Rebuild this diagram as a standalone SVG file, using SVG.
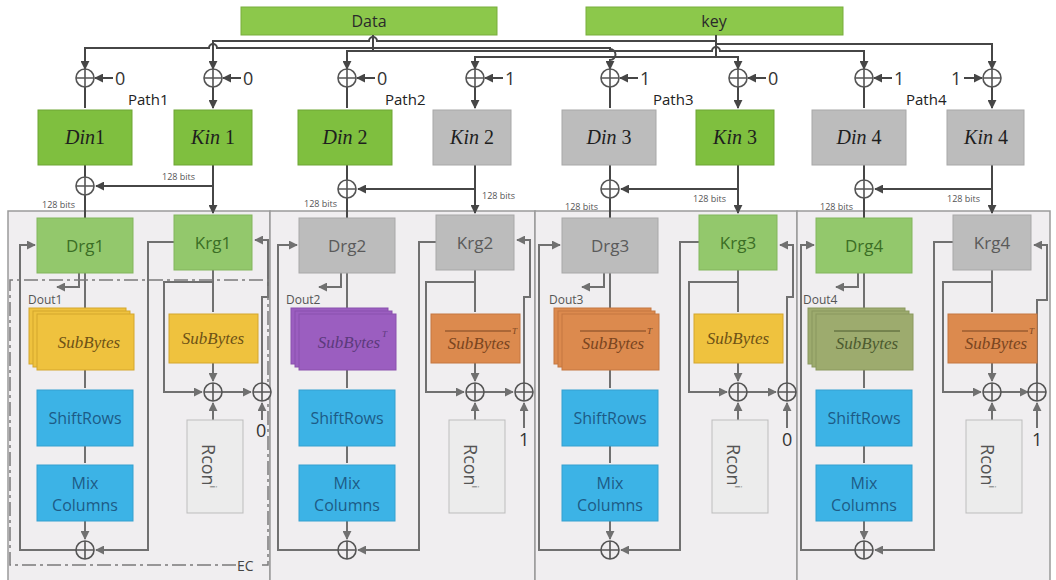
<svg xmlns="http://www.w3.org/2000/svg" width="1056" height="580" viewBox="0 0 1056 580">
<defs>
<style>
.ln{fill:none;stroke:#464646;stroke-width:2}
.pl{fill:none;stroke:#707070;stroke-width:2}
.top{fill:#8cc84b;stroke:#79ad3c;stroke-width:1}
.gA{fill:#7fbf3f;stroke:#6ea535;stroke-width:1}
.gB{fill:#93c86c;stroke:#82b55d;stroke-width:1}
.gr{fill:#bcbcbc;stroke:#a8a8a8;stroke-width:1}
.yl{fill:#efc23e;stroke:#d4a62c;stroke-width:1}
.pu{fill:#9b5ec0;stroke:#8a50ad;stroke-width:1}
.or{fill:#dc8a4e;stroke:#c47640;stroke-width:1}
.ol{fill:#9dab6e;stroke:#8a985e;stroke-width:1}
.bl{fill:#3cb3e6;stroke:#34a0cf;stroke-width:1}
.rc{fill:#ececec;stroke:#bdbdbd;stroke-width:1}
.pan{fill:#f0eef0;stroke:#9a9a9a;stroke-width:1.5}
.sans{font-family:"Open Sans","Liberation Sans",sans-serif}
.ser{font-family:"Liberation Serif","Times New Roman",serif}
.din{font-family:"Liberation Serif","Times New Roman",serif;font-size:20px;fill:#1e1e1e;text-anchor:middle}
.rg{font-family:"Open Sans","Liberation Sans",sans-serif;font-size:17px;text-anchor:middle}
.bt{font-family:"Open Sans","Liberation Sans",sans-serif;font-size:16px;fill:#1d5b86;text-anchor:middle}
.sb{font-family:"Liberation Serif","Times New Roman",serif;font-size:17px;font-style:italic;text-anchor:middle}
.k{font-family:"Open Sans","Liberation Sans",sans-serif;font-size:18px;fill:#333}
.s9{font-family:"Open Sans","Liberation Sans",sans-serif;font-size:9px;fill:#555}
.path{font-family:"Open Sans","Liberation Sans",sans-serif;font-size:15px;fill:#222}
.dout{font-family:"Open Sans","Liberation Sans",sans-serif;font-size:12px;fill:#555}
.xo{stroke:#555;stroke-width:1.6}
</style>
<marker id="a" viewBox="0 0 10 10" refX="9" refY="5" markerWidth="9" markerHeight="9" markerUnits="userSpaceOnUse" orient="auto"><path d="M0,0 L10,5 L0,10 z" fill="#464646"/></marker>
<marker id="b" viewBox="0 0 10 10" refX="9" refY="5" markerWidth="9" markerHeight="9" markerUnits="userSpaceOnUse" orient="auto"><path d="M0,0 L10,5 L0,10 z" fill="#707070"/></marker>
<g id="xor"><circle r="9" class="xo"/><path d="M-9,0H9M0,-9V9" class="xo" fill="none"/></g>
</defs>
<rect width="1056" height="580" fill="#ffffff"/>

<g id="panels">
<rect x="8" y="211" width="262" height="372" class="pan"/>
<rect x="270" y="211" width="265" height="372" class="pan"/>
<rect x="535" y="211" width="262" height="372" class="pan"/>
<rect x="797" y="211" width="253" height="372" class="pan"/>
</g>

<g id="data"><rect x="241" y="7" width="256" height="28" class="top"/><text x="369" y="27" class="sans" font-size="16" fill="#2a2a2a" text-anchor="middle">Data</text></g>
<g id="key"><rect x="586" y="7" width="257" height="28" class="top"/><text x="714" y="27" class="sans" font-size="16" fill="#2a2a2a" text-anchor="middle">key</text></g>

<g id="connectors">
<g id="top-wires">
<path class="ln" d="M373,35V51"/>
<path class="ln" d="M716,35V57"/>
<path class="ln" d="M373,48H217A4,4 0 0 0 209,48H85V69" marker-end="url(#a)"/>
<path class="ln" d="M373,51H347V69" marker-end="url(#a)"/>
<path class="ln" d="M373,48H610V49A5.5,5.5 0 0 1 610,60V69" marker-end="url(#a)"/>
<path class="ln" d="M373,51H712A4,4 0 0 1 720,51H864V69" marker-end="url(#a)"/>
<path class="ln" d="M716,41H377A4,4 0 0 0 369,41H213V69" marker-end="url(#a)"/>
<path class="ln" d="M716,57H475V69" marker-end="url(#a)"/>
<path class="ln" d="M716,57H738V69" marker-end="url(#a)"/>
<path class="ln" d="M716,44H992V69" marker-end="url(#a)"/>
</g>
<g id="c1" transform="translate(0,0)">
<path class="ln" d="M85,87V108M213,87V108" marker-end="url(#a)"/>
<path class="ln" d="M113,78H95" marker-end="url(#a)"/>
<path class="ln" d="M241,78H223" marker-end="url(#a)"/>
<path class="ln" d="M85,165V177M85,195V218"/>
<path class="ln" d="M213,165V213" marker-end="url(#a)"/>
<path class="ln" d="M213,186H96" marker-end="url(#a)"/>
<path class="pl" d="M76,550H20V245H35" marker-end="url(#b)"/>
<path class="pl" d="M174,242H148V550H96" marker-end="url(#b)"/>
<path class="pl" d="M85,273V312M85,370V388M85,446V463M85,521V539" marker-end="url(#b)"/>
<path class="pl" d="M79,273V287H57" marker-end="url(#b)"/>
<path class="pl" d="M213,270V312M213,363V381" marker-end="url(#b)"/>
<path class="pl" d="M213,282H164V392H202" marker-end="url(#b)"/>
<path class="pl" d="M213,420V403" marker-end="url(#b)"/>
<path class="pl" d="M222,392H251" marker-end="url(#b)"/>
<path class="pl" d="M262,420V403" marker-end="url(#b)"/>
<path class="pl" d="M262,383V297H268V240H255" marker-end="url(#b)"/>
</g>
<g id="c2" transform="translate(262,0)">
<path class="ln" d="M85,87V108M213,87V108" marker-end="url(#a)"/>
<path class="ln" d="M113,78H95" marker-end="url(#a)"/>
<path class="ln" d="M241,78H223" marker-end="url(#a)"/>
<path class="ln" d="M85,165V180M85,198V218"/>
<path class="ln" d="M213,165V213" marker-end="url(#a)"/>
<path class="ln" d="M213,189H96" marker-end="url(#a)"/>
<path class="pl" d="M76,550H16V245H35" marker-end="url(#b)"/>
<path class="pl" d="M174,242H157V550H96" marker-end="url(#b)"/>
<path class="pl" d="M85,273V312M85,370V388M85,446V463M85,521V539" marker-end="url(#b)"/>
<path class="pl" d="M79,273V287H57" marker-end="url(#b)"/>
<path class="pl" d="M213,270V312M213,363V381" marker-end="url(#b)"/>
<path class="pl" d="M213,282H164V392H202" marker-end="url(#b)"/>
<path class="pl" d="M213,420V403" marker-end="url(#b)"/>
<path class="pl" d="M222,392H251" marker-end="url(#b)"/>
<path class="pl" d="M262,428V403" marker-end="url(#b)"/>
<path class="pl" d="M262,383V297H268V240H255" marker-end="url(#b)"/>
</g>
<g id="c3" transform="translate(525,0)">
<path class="ln" d="M85,87V108M213,87V108" marker-end="url(#a)"/>
<path class="ln" d="M113,78H95" marker-end="url(#a)"/>
<path class="ln" d="M241,78H223" marker-end="url(#a)"/>
<path class="ln" d="M85,165V180M85,198V218"/>
<path class="ln" d="M213,165V213" marker-end="url(#a)"/>
<path class="ln" d="M213,189H96" marker-end="url(#a)"/>
<path class="pl" d="M76,550H14V245H35" marker-end="url(#b)"/>
<path class="pl" d="M174,242H155V550H96" marker-end="url(#b)"/>
<path class="pl" d="M85,273V312M85,370V388M85,446V463M85,521V539" marker-end="url(#b)"/>
<path class="pl" d="M79,273V287H57" marker-end="url(#b)"/>
<path class="pl" d="M213,270V312M213,363V381" marker-end="url(#b)"/>
<path class="pl" d="M213,282H164V392H202" marker-end="url(#b)"/>
<path class="pl" d="M213,420V403" marker-end="url(#b)"/>
<path class="pl" d="M222,392H251" marker-end="url(#b)"/>
<path class="pl" d="M262,428V403" marker-end="url(#b)"/>
<path class="pl" d="M262,383V297H268V245H255" marker-end="url(#b)"/>
</g>
<g id="c4" transform="translate(779,0)">
<path class="ln" d="M85,87V108M213,87V108" marker-end="url(#a)"/>
<path class="ln" d="M113,78H95" marker-end="url(#a)"/>
<path class="ln" d="M185,78H203" marker-end="url(#a)"/>
<path class="ln" d="M85,165V180M85,198V218"/>
<path class="ln" d="M213,165V213" marker-end="url(#a)"/>
<path class="ln" d="M213,189H96" marker-end="url(#a)"/>
<path class="pl" d="M76,550H22V245H35" marker-end="url(#b)"/>
<path class="pl" d="M174,242H155V550H96" marker-end="url(#b)"/>
<path class="pl" d="M85,273V312M85,370V388M85,446V463M85,521V539" marker-end="url(#b)"/>
<path class="pl" d="M79,273V287H57" marker-end="url(#b)"/>
<path class="pl" d="M213,270V312M213,363V381" marker-end="url(#b)"/>
<path class="pl" d="M213,282H164V392H202" marker-end="url(#b)"/>
<path class="pl" d="M213,420V403" marker-end="url(#b)"/>
<path class="pl" d="M222,392H249" marker-end="url(#b)"/>
<path class="pl" d="M258,428V403" marker-end="url(#b)"/>
<path class="pl" d="M258,383V300H268V245H255" marker-end="url(#b)"/>
</g>
</g>

<g id="ec">
<path d="M236,565H10V280H268V565H262" fill="none" stroke="#7a7a7a" stroke-width="1.5" stroke-dasharray="14 4 3 4"/>
<text x="237" y="571" class="sans" font-size="14" fill="#444">EC</text>
</g>

<g id="path1">
<use href="#xor" x="85" y="78" fill="#fff"/><use href="#xor" x="213" y="78" fill="#fff"/>
<text x="115" y="85" class="k">0</text><text x="243" y="85" class="k">0</text>
<text x="128" y="105" class="path">Path1</text>
<g id="din1"><rect x="38" y="110" width="94" height="55" class="gA"/><text x="85" y="144" class="din"><tspan font-style="italic">Din</tspan>1</text></g>
<g id="kin1"><rect x="174" y="110" width="78" height="55" class="gA"/><text x="213" y="144" class="din"><tspan font-style="italic">Kin</tspan> 1</text></g>
<use href="#xor" x="85" y="186" fill="#fff"/>
<text x="162" y="180" class="s9">128 bits</text><text x="42" y="208" class="s9">128 bits</text>
<g id="drg1"><rect x="37" y="218" width="96" height="55" class="gB"/><text x="85" y="252" class="rg" fill="#3b6e25">Drg1</text></g>
<g id="krg1"><rect x="174" y="215" width="78" height="55" class="gB"/><text x="213" y="249" class="rg" fill="#3b6e25">Krg1</text></g>
<text x="28" y="304" class="dout">Dout1</text>
<g id="sb1d"><rect x="29" y="308" width="97" height="56" class="yl"/><rect x="33" y="311" width="97" height="56" class="yl"/><rect x="37" y="314" width="97" height="56" class="yl"/><text x="89" y="348" class="sb" fill="#6e5216">SubBytes</text></g>
<g id="sr1"><rect x="37" y="390" width="96" height="56" class="bl"/><text x="85" y="424" class="bt">ShiftRows</text></g>
<g id="mc1"><rect x="37" y="465" width="96" height="56" class="bl"/><text x="85" y="489" class="bt">Mix</text><text x="85" y="511" class="bt">Columns</text></g>
<use href="#xor" x="85" y="550" fill="#f0eef0"/>
<g id="sb1k"><rect x="169" y="314" width="89" height="49" class="yl"/><text x="213" y="344" class="sb" fill="#6e5216">SubBytes</text></g>
<use href="#xor" x="213" y="392" fill="#f0eef0"/><use href="#xor" x="262" y="392" fill="#f0eef0"/>
<g id="rcon1"><rect x="187" y="420" width="56" height="93" class="rc"/><text transform="translate(202,466) rotate(90)" class="sans" font-size="18" fill="#555" text-anchor="middle">Rcon<tspan dy="-8" font-size="9">i</tspan></text></g>
<text x="256" y="437" class="k">0</text>
</g>

<g id="path2" transform="translate(262,0)">
<use href="#xor" x="85" y="78" fill="#fff"/><use href="#xor" x="213" y="78" fill="#fff"/>
<text x="115" y="85" class="k">0</text><text x="243" y="85" class="k">1</text>
<text x="123" y="105" class="path">Path2</text>
<g id="din2"><rect x="36" y="110" width="94" height="55" class="gA"/><text x="83" y="144" class="din"><tspan font-style="italic">Din</tspan> 2</text></g>
<g id="kin2"><rect x="171" y="110" width="78" height="55" class="gr"/><text x="210" y="144" class="din"><tspan font-style="italic">Kin</tspan> 2</text></g>
<use href="#xor" x="85" y="189" fill="#fff"/>
<text x="220" y="199" class="s9">128 bits</text><text x="42" y="207" class="s9">128 bits</text>
<g id="drg2"><rect x="37" y="218" width="96" height="55" class="gr"/><text x="85" y="252" class="rg" fill="#5a5a5a">Drg2</text></g>
<g id="krg2"><rect x="174" y="215" width="78" height="55" class="gr"/><text x="213" y="249" class="rg" fill="#5a5a5a">Krg2</text></g>
<text x="24" y="304" class="dout">Dout2</text>
<g id="sb2d"><rect x="29" y="308" width="97" height="56" class="pu"/><rect x="33" y="311" width="97" height="56" class="pu"/><rect x="37" y="314" width="97" height="56" class="pu"/><text x="87" y="348" class="sb" fill="#5c3a7c">SubBytes</text><text x="120" y="337" class="ser" font-size="9" font-style="italic" fill="#5c3a7c">T</text></g>
<g id="sr2"><rect x="37" y="390" width="96" height="56" class="bl"/><text x="85" y="424" class="bt">ShiftRows</text></g>
<g id="mc2"><rect x="37" y="465" width="96" height="56" class="bl"/><text x="85" y="489" class="bt">Mix</text><text x="85" y="511" class="bt">Columns</text></g>
<use href="#xor" x="85" y="550" fill="#f0eef0"/>
<g id="sb2k"><rect x="169" y="314" width="89" height="49" class="or"/><line x1="183" y1="331" x2="249" y2="331" stroke="#7a4520" stroke-width="1"/><text x="217" y="349" class="sb" fill="#7a4520">SubBytes</text><text x="250" y="334" class="ser" font-size="9" font-style="italic" fill="#7a4520">T</text></g>
<use href="#xor" x="213" y="392" fill="#f0eef0"/><use href="#xor" x="262" y="392" fill="#f0eef0"/>
<g id="rcon2"><rect x="187" y="420" width="56" height="93" class="rc"/><text transform="translate(202,466) rotate(90)" class="sans" font-size="18" fill="#555" text-anchor="middle">Rcon<tspan dy="-8" font-size="9">i</tspan></text></g>
<text x="257" y="446" class="k">1</text>
</g>

<g id="path3" transform="translate(525,0)">
<use href="#xor" x="85" y="78" fill="#fff"/><use href="#xor" x="213" y="78" fill="#fff"/>
<text x="115" y="85" class="k">1</text><text x="243" y="85" class="k">0</text>
<text x="128" y="105" class="path">Path3</text>
<g id="din3"><rect x="37" y="110" width="94" height="55" class="gr"/><text x="84" y="144" class="din"><tspan font-style="italic">Din</tspan> 3</text></g>
<g id="kin3"><rect x="171" y="110" width="78" height="55" class="gA"/><text x="210" y="144" class="din"><tspan font-style="italic">Kin</tspan> 3</text></g>
<use href="#xor" x="85" y="189" fill="#fff"/>
<text x="168" y="202" class="s9">128 bits</text><text x="40" y="210" class="s9">128 bits</text>
<g id="drg3"><rect x="37" y="218" width="96" height="55" class="gr"/><text x="85" y="252" class="rg" fill="#5a5a5a">Drg3</text></g>
<g id="krg3"><rect x="174" y="215" width="78" height="55" class="gB"/><text x="213" y="249" class="rg" fill="#3b6e25">Krg3</text></g>
<text x="24" y="304" class="dout">Dout3</text>
<g id="sb3d"><rect x="29" y="308" width="97" height="56" class="or"/><rect x="33" y="311" width="97" height="56" class="or"/><rect x="37" y="314" width="97" height="56" class="or"/><line x1="55" y1="331" x2="121" y2="331" stroke="#7a4520" stroke-width="1"/><text x="88" y="349" class="sb" fill="#7a4520">SubBytes</text><text x="122" y="334" class="ser" font-size="9" font-style="italic" fill="#7a4520">T</text></g>
<g id="sr3"><rect x="37" y="390" width="96" height="56" class="bl"/><text x="85" y="424" class="bt">ShiftRows</text></g>
<g id="mc3"><rect x="37" y="465" width="96" height="56" class="bl"/><text x="85" y="489" class="bt">Mix</text><text x="85" y="511" class="bt">Columns</text></g>
<use href="#xor" x="85" y="550" fill="#f0eef0"/>
<g id="sb3k"><rect x="169" y="314" width="89" height="49" class="yl"/><text x="213" y="344" class="sb" fill="#6e5216">SubBytes</text></g>
<use href="#xor" x="213" y="392" fill="#f0eef0"/><use href="#xor" x="262" y="392" fill="#f0eef0"/>
<g id="rcon3"><rect x="187" y="420" width="56" height="93" class="rc"/><text transform="translate(202,466) rotate(90)" class="sans" font-size="18" fill="#555" text-anchor="middle">Rcon<tspan dy="-8" font-size="9">i</tspan></text></g>
<text x="257" y="446" class="k">0</text>
</g>

<g id="path4" transform="translate(779,0)">
<use href="#xor" x="85" y="78" fill="#fff"/><use href="#xor" x="213" y="78" fill="#fff"/>
<text x="115" y="85" class="k">1</text><text x="172" y="85" class="k">1</text>
<text x="127" y="105" class="path">Path4</text>
<g id="din4"><rect x="33" y="110" width="94" height="55" class="gr"/><text x="80" y="144" class="din"><tspan font-style="italic">Din</tspan> 4</text></g>
<g id="kin4"><rect x="168" y="110" width="77" height="55" class="gr"/><text x="207" y="144" class="din"><tspan font-style="italic">Kin</tspan> 4</text></g>
<use href="#xor" x="85" y="189" fill="#fff"/>
<text x="168" y="202" class="s9">128 bits</text><text x="41" y="210" class="s9">128 bits</text>
<g id="drg4"><rect x="37" y="218" width="96" height="55" class="gB"/><text x="85" y="252" class="rg" fill="#3b6e25">Drg4</text></g>
<g id="krg4"><rect x="174" y="215" width="78" height="55" class="gr"/><text x="213" y="249" class="rg" fill="#5a5a5a">Krg4</text></g>
<text x="24" y="304" class="dout">Dout4</text>
<g id="sb4d"><rect x="29" y="308" width="97" height="56" class="ol"/><rect x="33" y="311" width="97" height="56" class="ol"/><rect x="37" y="314" width="97" height="56" class="ol"/><line x1="55" y1="331" x2="121" y2="331" stroke="#4c5a2e" stroke-width="1"/><text x="88" y="349" class="sb" fill="#4c5a2e">SubBytes</text></g>
<g id="sr4"><rect x="37" y="390" width="96" height="56" class="bl"/><text x="85" y="424" class="bt">ShiftRows</text></g>
<g id="mc4"><rect x="37" y="465" width="96" height="56" class="bl"/><text x="85" y="489" class="bt">Mix</text><text x="85" y="511" class="bt">Columns</text></g>
<use href="#xor" x="85" y="550" fill="#f0eef0"/>
<g id="sb4k"><rect x="169" y="314" width="89" height="49" class="or"/><line x1="183" y1="331" x2="249" y2="331" stroke="#7a4520" stroke-width="1"/><text x="217" y="349" class="sb" fill="#7a4520">SubBytes</text><text x="250" y="334" class="ser" font-size="9" font-style="italic" fill="#7a4520">T</text></g>
<use href="#xor" x="213" y="392" fill="#f0eef0"/><use href="#xor" x="258" y="392" fill="#f0eef0"/>
<g id="rcon4"><rect x="187" y="420" width="56" height="93" class="rc"/><text transform="translate(202,466) rotate(90)" class="sans" font-size="18" fill="#555" text-anchor="middle">Rcon<tspan dy="-8" font-size="9">i</tspan></text></g>
<text x="253" y="446" class="k">1</text>
</g>
</svg>
